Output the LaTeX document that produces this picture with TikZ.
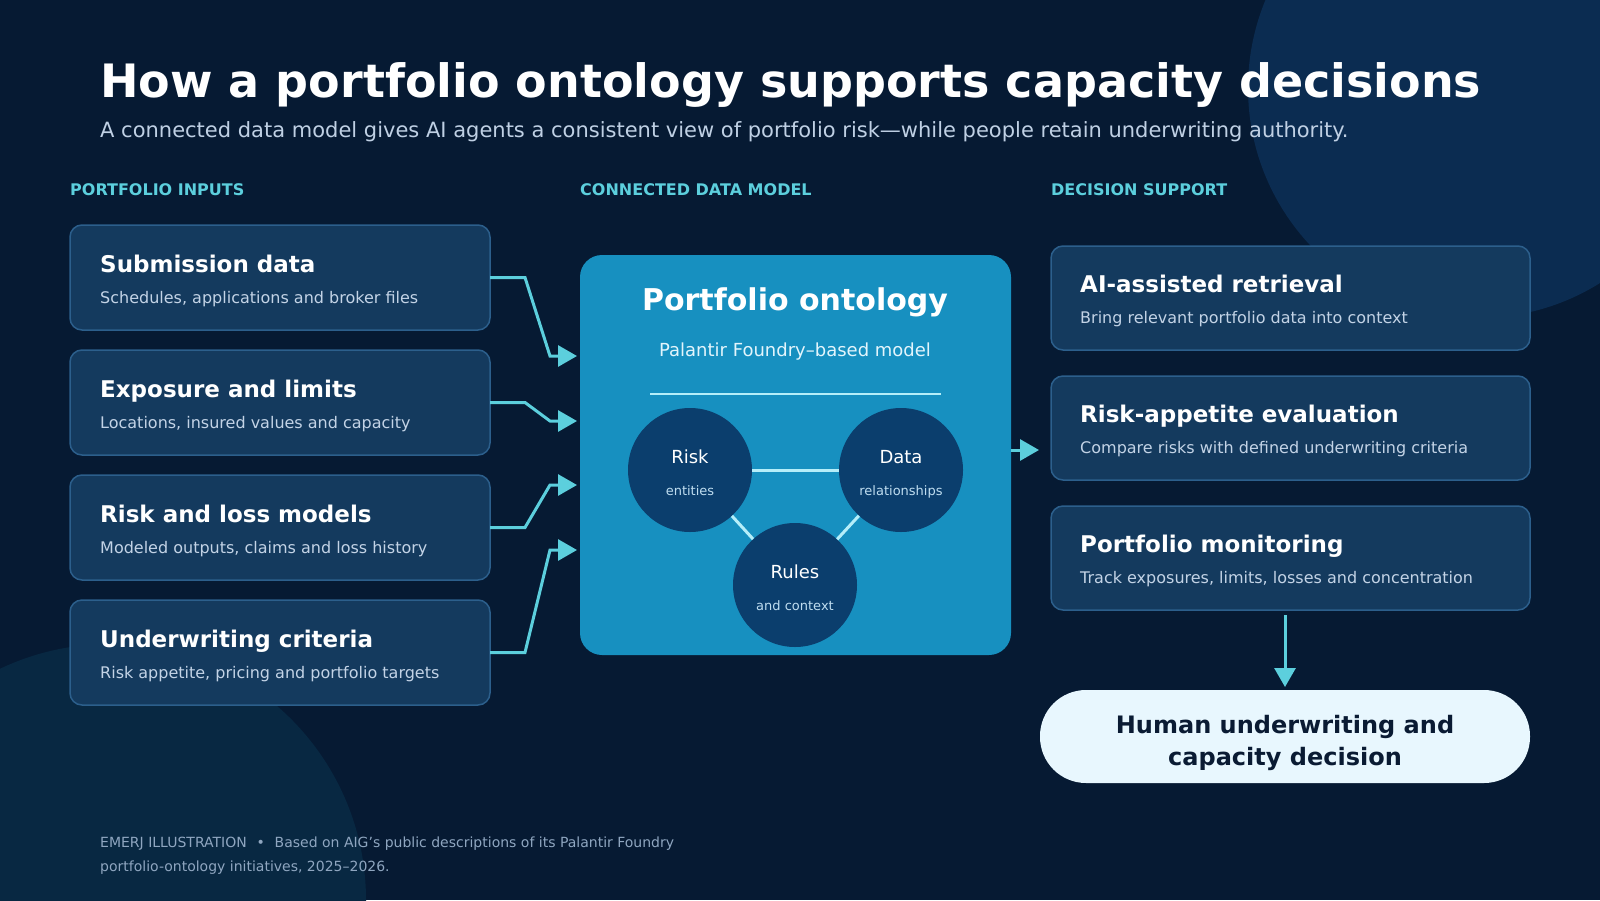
\documentclass[tikz,border=0pt]{standalone}
\usepackage{fontspec}
\setmainfont{DejaVu Sans}
\usetikzlibrary{arrows.meta,positioning}
\definecolor{bg}{HTML}{061A33}
\definecolor{blobtop}{HTML}{0B2C51}
\definecolor{blobbot}{HTML}{082842}
\definecolor{cardfill}{HTML}{143A5E}
\definecolor{cardline}{HTML}{2C5F8C}
\definecolor{muted}{HTML}{C3D3E6}
\definecolor{subtle}{HTML}{BFD0E4}
\definecolor{accent}{HTML}{5CCFDD}
\definecolor{corefill}{HTML}{1790C0}
\definecolor{corepale}{HTML}{E3F5FC}
\definecolor{orbfill}{HTML}{0B3E6D}
\definecolor{orbtext}{HTML}{BFDDF0}
\definecolor{linkc}{HTML}{B5EEF9}
\definecolor{pillfill}{HTML}{E8F7FE}
\definecolor{ink}{HTML}{0A1B33}
\definecolor{foot}{HTML}{8FA6C0}
\begin{document}
\begin{tikzpicture}[x=1pt, y=-1pt, node distance=20pt,
    card/.style={draw=cardline, fill=cardfill, line width=1.5pt, rounded corners=12pt, minimum width=420pt, minimum height=105pt, inner sep=0pt, outer sep=0pt},
    rcard/.style={card, minimum width=479pt, minimum height=104pt},
    head/.style={anchor=base west, inner sep=0pt, text=white, font=\fontsize{23}{27}\selectfont\bfseries},
    desc/.style={anchor=base west, inner sep=0pt, text=muted, font=\fontsize{16}{20}\selectfont},
    section/.style={anchor=base west, inner sep=0pt, text=accent, font=\fontsize{16}{19}\selectfont\bfseries},
    flow/.style={draw=accent, line width=3pt, -{Triangle[length=19pt,width=21pt]}},
    link/.style={draw=linkc, line width=3pt},
    orb/.style={circle, fill=orbfill, minimum size=124pt, inner sep=0pt},
    orbhead/.style={anchor=base, inner sep=0pt, text=white, font=\fontsize{18}{22}\selectfont},
    orbsub/.style={anchor=base, inner sep=0pt, text=orbtext, font=\fontsize{13}{16}\selectfont},
    pillbox/.style={fill=pillfill, rounded corners=46pt, minimum width=490pt, minimum height=93pt, inner sep=0pt, outer sep=0pt},
    pilltext/.style={anchor=base, inner sep=0pt, text=ink, font=\fontsize{24}{28}\selectfont\bfseries},
    foot/.style={anchor=base west, inner sep=0pt, text=foot, font=\fontsize{14}{17}\selectfont}]
    % background
    \useasboundingbox (0,0) rectangle (1600,900);
    \clip (0,0) rectangle (1600,900);
    \fill[bg] (0,0) rectangle (1600,900);
    \fill[blobtop] (1478,88) circle[radius=230pt];
    \fill[blobbot] (110,900) circle[radius=256pt];
    % title
    \node[anchor=base west, inner sep=0pt, text=white, font=\fontsize{46}{52}\selectfont\bfseries] (title) at (100,97) {How a portfolio ontology supports capacity decisions};
    \node[anchor=base west, inner sep=0pt, text=subtle, font=\fontsize{21}{25}\selectfont] (subtitle) at (100,137) {A connected data model gives AI agents a consistent view of portfolio risk—while people retain underwriting authority.};
    \node[section] (secin) at (70,195) {PORTFOLIO INPUTS};
    \node[section] (secmid) at (580,195) {CONNECTED DATA MODEL};
    \node[section] (secout) at (1051,195) {DECISION SUPPORT};
    % inputs
    \node[card, anchor=north west] (sub) at (70,225) {};
    \node[card, below=of sub] (exp) {};
    \node[card, below=of exp] (loss) {};
    \node[card, below=of loss] (crit) {};
    \node[head] at ([xshift=30pt,yshift=-47pt]sub.north west) {Submission data};
    \node[desc] at ([xshift=30pt,yshift=-78pt]sub.north west) {Schedules, applications and broker files};
    \node[head] at ([xshift=30pt,yshift=-47pt]exp.north west) {Exposure and limits};
    \node[desc] at ([xshift=30pt,yshift=-78pt]exp.north west) {Locations, insured values and capacity};
    \node[head] at ([xshift=30pt,yshift=-47pt]loss.north west) {Risk and loss models};
    \node[desc] at ([xshift=30pt,yshift=-78pt]loss.north west) {Modeled outputs, claims and loss history};
    \node[head] at ([xshift=30pt,yshift=-47pt]crit.north west) {Underwriting criteria};
    \node[desc] at ([xshift=30pt,yshift=-78pt]crit.north west) {Risk appetite, pricing and portfolio targets};
    % ontology
    \node[fill=corefill, rounded corners=22pt, minimum width=431pt, minimum height=400pt, inner sep=0pt, outer sep=0pt, anchor=north west] (onto) at (580,255) {};
    \node[anchor=base, inner sep=0pt, text=white, font=\fontsize{30}{36}\selectfont\bfseries] (ontoH) at (795,310) {Portfolio ontology};
    \node[anchor=base, inner sep=0pt, text=corepale, font=\fontsize{18}{22}\selectfont] (ontoD) at (795,356) {Palantir Foundry–based model};
    \draw[linkc, line width=2pt] (650,394) -- (941,394);
    \node[orb] (risk) at (690,470) {};
    \node[orb] (data) at (901,470) {};
    \node[orb] (rules) at (795,585) {};
    \draw[link] (risk) -- (data);
    \draw[link] (risk) -- (rules);
    \draw[link] (data) -- (rules);
    \node[orbhead] at ([yshift=7pt]risk.center) {Risk};
    \node[orbsub] at ([yshift=-25pt]risk.center) {entities};
    \node[orbhead] at ([yshift=7pt]data.center) {Data};
    \node[orbsub] at ([yshift=-25pt]data.center) {relationships};
    \node[orbhead] at ([yshift=7pt]rules.center) {Rules};
    \node[orbsub] at ([yshift=-25pt]rules.center) {and context};
    % decision support
    \node[rcard, anchor=north west] (ret) at (1051,246) {};
    \node[rcard, below=26pt of ret] (app) {};
    \node[rcard, below=26pt of app] (mon) {};
    \node[head] at ([xshift=29pt,yshift=-46pt]ret.north west) {AI-assisted retrieval};
    \node[desc] at ([xshift=29pt,yshift=-77pt]ret.north west) {Bring relevant portfolio data into context};
    \node[head] at ([xshift=29pt,yshift=-46pt]app.north west) {Risk-appetite evaluation};
    \node[desc] at ([xshift=29pt,yshift=-77pt]app.north west) {Compare risks with defined underwriting criteria};
    \node[head] at ([xshift=29pt,yshift=-46pt]mon.north west) {Portfolio monitoring};
    \node[desc] at ([xshift=29pt,yshift=-77pt]mon.north west) {Track exposures, limits, losses and concentration};
    \node[pillbox, anchor=north west] (pill) at (1040,690) {};
    \node[pilltext] at (1285,733) {Human underwriting and};
    \node[pilltext] at (1285,765) {capacity decision};
    % connectors
    \coordinate (in1) at (577,356);
    \coordinate (in2) at (577,421);
    \coordinate (in3) at (577,485);
    \coordinate (in4) at (577,550);
    \draw[flow] (sub.east) -- ++(35,0) -- ([xshift=-27pt]in1) -- (in1);
    \draw[flow] (exp.east) -- ++(35,0) -- ([xshift=-27pt]in2) -- (in2);
    \draw[flow] (loss.east) -- ++(35,0) -- ([xshift=-27pt]in3) -- (in3);
    \draw[flow] (crit.east) -- ++(35,0) -- ([xshift=-27pt]in4) -- (in4);
    \coordinate (out) at (1039,450);
    \draw[flow] (onto.east |- out) -- (out);
    \coordinate (drop) at (pill.north |- mon.south);
    \draw[flow] ([yshift=-5pt]drop) -- ([yshift=3pt]pill.north);
    % footer
    \node[foot] (note1) at (100,847) {EMERJ ILLUSTRATION\hspace{0.7em}•\hspace{0.7em}Based on AIG’s public descriptions of its Palantir Foundry};
    \node[foot] (note2) at (100,871) {portfolio-ontology initiatives, 2025–2026.};
\end{tikzpicture}
\end{document}
